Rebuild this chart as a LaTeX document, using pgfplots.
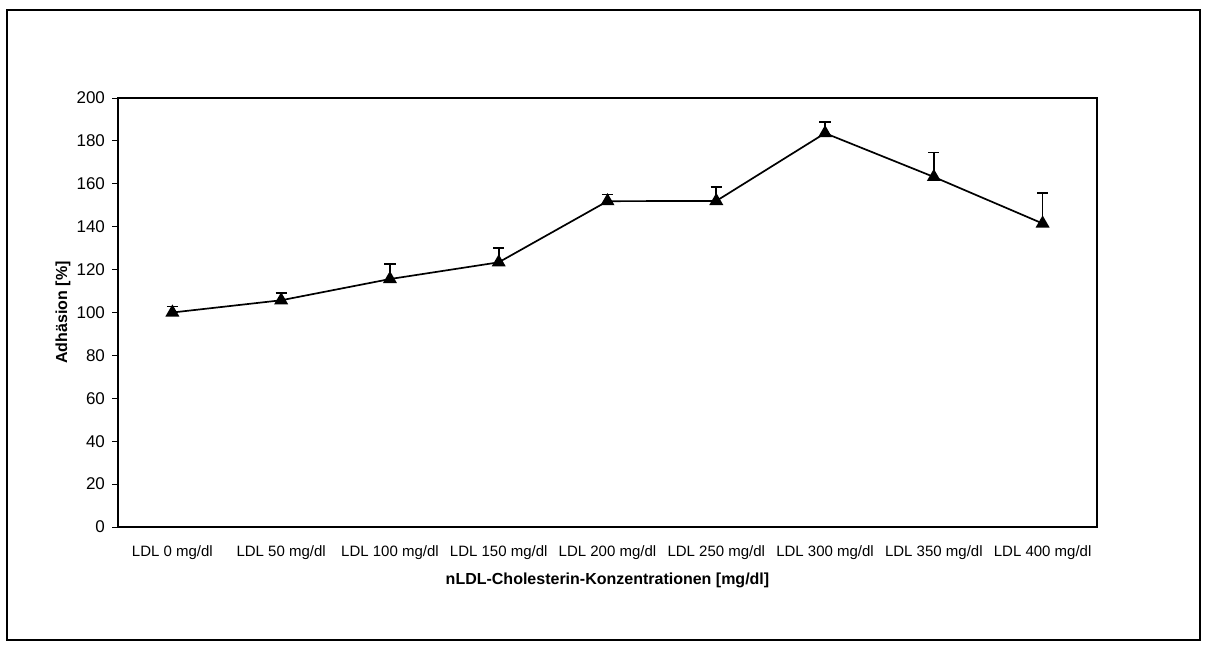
\documentclass[border=0pt]{standalone}
\usepackage{pgfplots}
\pgfplotsset{compat=1.18}
\usepackage{fontspec}
\setmainfont{Liberation Sans}
\begin{document}
\begin{tikzpicture}[x=0.5pt,y=0.5pt]
\path (0,0) rectangle (1208,649);
\draw[line width=0.8pt] (7,9) rectangle (1200,639);
\begin{axis}[
  at={(118pt*0.5,122pt*0.5)}, anchor=south west,
  scale only axis, width=489.5pt, height=214.5pt,
  xmin=-0.5, xmax=8.5, ymin=0, ymax=200,
  ytick={0,20,...,200},
  xtick={0,...,8},
  xticklabels={LDL 0 mg/dl, LDL 50 mg/dl, LDL 100 mg/dl, LDL 150 mg/dl, LDL 200 mg/dl, LDL 250 mg/dl, LDL 300 mg/dl, LDL 350 mg/dl, LDL 400 mg/dl},
  xtick pos=bottom, ytick pos=left,
  x tick style={draw=none},
  minor xtick={-0.5,0.5,...,8.5},
  minor x tick style={black, line width=0.5pt},
  y tick style={black, line width=0.5pt},
  tick align=outside,
  major tick length=3pt, minor tick length=3pt,
  axis line style={line width=0.6pt},
  xticklabel style={font=\fontsize{7.5}{9}\selectfont, yshift=-3pt},
  yticklabel style={font=\fontsize{8.5}{10}\selectfont},
  /pgf/number format/assume math mode=true,
  xlabel={nLDL-Cholesterin-Konzentrationen [mg/dl]},
  ylabel={Adhäsion [\%]},
  label style={font=\fontsize{8}{10}\selectfont\bfseries},
  x label style={at={(axis description cs:0.5,0)}, anchor=center, yshift=-26.5pt},
  y label style={at={(axis description cs:0,0.5)}, anchor=center, yshift=27.5pt},
  clip=false,
]
\addplot[black, line width=0.85pt, mark=triangle*, mark size=3.2pt,
  error bars/.cd, y dir=plus, y explicit,
  error mark options={rotate=90, mark size=2.8pt, line width=0.8pt},
  error bar style={line width=0.8pt}]
coordinates {
 (0,100) +- (0,2.8)
 (1,105.7) +- (0,3.3)
 (2,115.6) +- (0,6.9)
 (3,123.4) +- (0,6.6)
 (4,151.9) +- (0,3.1)
 (5,152.0) +- (0,6.4)
 (6,183.6) +- (0,5.1)
 (7,163.2) +- (0,11.4)
 (8,141.5) +- (0,14.1)
};
\end{axis}
\end{tikzpicture}
\end{document}
